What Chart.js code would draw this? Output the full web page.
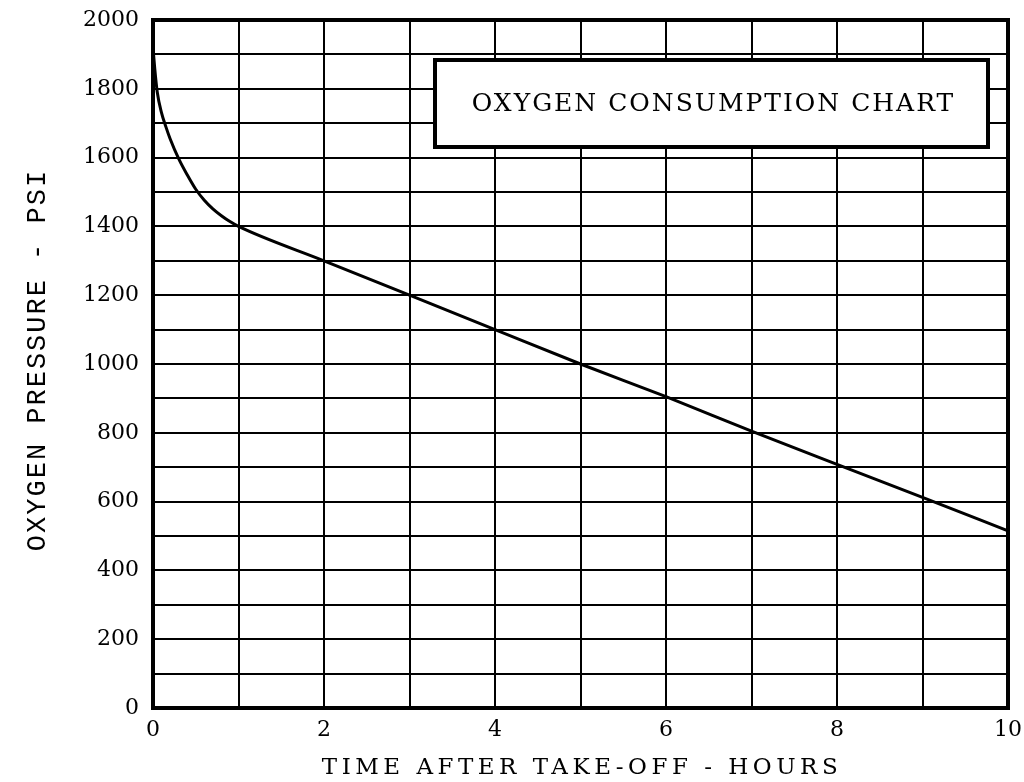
<!DOCTYPE html>
<html>
<head>
<meta charset="utf-8">
<script src="https://cdn.jsdelivr.net/npm/chart.js@4.4.1/dist/chart.umd.min.js"></script>
<style>
  html, body { margin: 0; padding: 0; background: #fff; }
  canvas { display: block; }
</style>
</head>
<body>
<canvas id="chart" width="1024" height="782"></canvas>
<script>
// time after take-off (hours) and oxygen pressure (psi)
const hours = [0, 0.02, 0.05, 0.1, 0.15, 0.2, 0.3, 0.4, 0.5, 0.6, 0.7, 0.8, 0.9, 1, 2, 3, 4, 5, 6, 7, 8, 9, 10];
const pressure = [1920, 1860, 1790, 1730, 1690, 1655, 1597, 1550, 1508, 1476, 1451, 1431, 1414, 1400, 1300, 1200, 1100, 1000, 905, 805, 708, 612, 515];

const xLabels = [0, 2, 4, 6, 8, 10];
const yLabels = [0, 200, 400, 600, 800, 1000, 1200, 1400, 1600, 1800, 2000];

const chartTitle = 'OXYGEN CONSUMPTION CHART';
const xTitle = 'TIME AFTER TAKE-OFF - HOURS';
const yTitle = 'OXYGEN PRESSURE - PSI';

const serif = '"DejaVu Serif", "Liberation Serif", serif';
const mono = '"Liberation Mono", "DejaVu Sans Mono", monospace';

// heavy frame, boxed title and the spaced-out axis titles
const framePlugin = {
  id: 'frame',
  afterDraw(chart) {
    const { ctx, chartArea: a } = chart;
    ctx.save();
    ctx.strokeStyle = '#000';
    ctx.lineWidth = 4;
    ctx.strokeRect(a.left, a.top, a.right - a.left, a.bottom - a.top);

    const bx = 435, by = 60, bw = 553, bh = 87;
    ctx.fillStyle = '#fff';
    ctx.fillRect(bx, by, bw, bh);
    ctx.strokeRect(bx, by, bw, bh);

    ctx.fillStyle = '#000';
    ctx.textAlign = 'center';
    ctx.textBaseline = 'middle';
    ctx.font = '25px ' + serif;
    ctx.letterSpacing = '2px';
    ctx.fillText(chartTitle, bx + bw / 2 + 2, by + bh / 2 + 1);

    ctx.font = '23px ' + serif;
    ctx.letterSpacing = '4.5px';
    ctx.fillText(xTitle, 582, 768);

    ctx.translate(38, 360);
    ctx.rotate(-Math.PI / 2);
    ctx.font = '27px ' + mono;
    ctx.letterSpacing = '2px';
    ctx.fillText(yTitle, 0, 0);
    ctx.restore();
  }
};

new Chart(document.getElementById('chart').getContext('2d'), {
  type: 'line',
  data: {
    datasets: [{
      data: hours.map((h, i) => ({ x: h, y: pressure[i] })),
      borderColor: '#000',
      borderWidth: 3,
      pointRadius: 0,
      cubicInterpolationMode: 'monotone',
      fill: false
    }]
  },
  options: {
    responsive: false,
    animation: false,
    layout: { padding: { top: 20, right: 16, left: 0, bottom: 0 } },
    plugins: { legend: { display: false }, tooltip: { enabled: false } },
    scales: {
      x: {
        type: 'linear',
        min: 0,
        max: 10,
        afterFit: (s) => { s.height = 74; s.paddingLeft = 0; s.paddingRight = 0; },
        ticks: {
          stepSize: 1,
          padding: 9,
          color: '#000',
          font: { family: serif, size: 22 },
          callback: (v) => (xLabels.includes(v) ? String(v) : '')
        },
        grid: { color: '#000', lineWidth: 2, drawTicks: false },
        border: { color: '#000', width: 4 }
      },
      y: {
        min: 0,
        max: 2000,
        afterFit: (s) => { s.width = 153; s.paddingTop = 0; s.paddingBottom = 0; },
        ticks: {
          stepSize: 100,
          padding: 14,
          color: '#000',
          font: { family: serif, size: 22 },
          callback: (v) => (yLabels.includes(v) ? String(v) : '')
        },
        grid: { color: '#000', lineWidth: 2, drawTicks: false },
        border: { color: '#000', width: 4 }
      }
    }
  },
  plugins: [framePlugin]
});
</script>
</body>
</html>
